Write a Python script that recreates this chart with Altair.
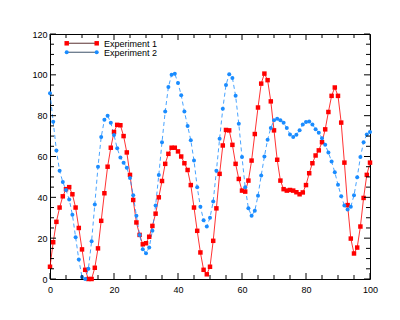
import altair as alt
import pandas as pd

x_vals = list(range(101))

exp1 = [6, 18, 28, 35, 40.5, 44, 45, 41.5, 35, 25,
        14.5, 4.5, 0, 0, 5.5, 15, 28.5, 42, 55, 64.3,
        72, 75.5, 75.3, 70, 62, 51, 38.7, 27.7, 21.6, 17,
        17.5, 20.7, 26, 32, 40, 48, 56.4, 61.3, 64.3, 64.3,
        62.5, 60, 56.7, 53.4, 46, 35, 23.6, 13, 4.5, 2.3,
        6, 18.7, 34.6, 51.5, 65.4, 73, 72.8, 65.7, 56.4, 49,
        43.3, 42.8, 48.2, 58, 71, 84, 95.7, 100.6, 97.4, 87,
        72.8, 58.4, 48.2, 44, 43.3, 43.6, 43.3, 42.5, 41.5, 42.4,
        46, 51.8, 56.7, 60.5, 63, 67, 73.3, 81.8, 89.7, 93.8,
        89.7, 76.6, 57, 36.2, 19.8, 12.5, 15.4, 25.7, 39.7, 51,
        57]

exp2 = [91, 77, 63, 53, 47.5, 43.6, 39, 31.5, 20.5, 9.5,
        1, 0, 5, 18.5, 36.5, 55, 69.5, 78, 80, 76.5,
        70.5, 64, 59.5, 57, 54.5, 49.5, 41, 31, 21.6, 14.6,
        12.6, 15.4, 23.6, 36, 51, 67, 82, 94, 100, 100.5,
        96, 90, 82, 75, 68, 58, 45, 35.4, 28.8, 25.7,
        30, 38, 53, 68.7, 83.4, 95, 100.3, 98.5, 89.7, 76,
        59.7, 45, 34.6, 31, 33.4, 40.8, 50.7, 60, 68.2, 74,
        77.7, 78.5, 77.7, 76.5, 74, 70.8, 69.5, 70.7, 72.8, 75.7,
        76.9, 77.2, 75.7, 73.4, 71.6, 69, 65.7, 62, 57.5, 52.3,
        46.2, 40.5, 36, 34, 35.4, 41, 49.8, 59.7, 67, 70.8,
        72]

series_names = ["Experiment 1", "Experiment 2"]
x_major = [0, 20, 40, 60, 80, 100]
x_minor = [5, 10, 15, 25, 30, 35, 45, 50, 55, 65, 70, 75, 85, 90, 95]
y_major = [0, 20, 40, 60, 80, 100, 120]
y_minor = [5, 10, 15, 25, 30, 35, 45, 50, 55, 65, 70, 75, 85, 90, 95, 105, 110, 115]

RED = "#ff0000"
BLUE = "#1a8cff"
FONT = "Liberation Sans"
W, H = 320, 245

xscale = alt.Scale(domain=[0, 100], nice=False, zero=False)
yscale = alt.Scale(domain=[0, 120], nice=False, zero=False)

df1 = pd.DataFrame({"x": x_vals, "y": exp1})
df2 = pd.DataFrame({"x": x_vals, "y": exp2})

xaxis = alt.Axis(values=x_major, ticks=False, domain=False, grid=False,
                 labelFont=FONT, labelFontSize=9, labelColor="black",
                 labelPadding=6, title=None, labelFlush=False)
yaxis = alt.Axis(values=y_major, ticks=False, domain=False, grid=False,
                 labelFont=FONT, labelFontSize=9, labelColor="black",
                 labelPadding=3, title=None, labelFlush=False)

def X(field):
    return alt.X(field, scale=xscale, axis=xaxis)

def Y(field):
    return alt.Y(field, scale=yscale, axis=yaxis)

red_line = alt.Chart(df1).mark_line(color=RED, strokeWidth=1, opacity=0.8).encode(
    x=X("x:Q"), y=Y("y:Q"))
red_pts = alt.Chart(df1).mark_square(color=RED, size=20, opacity=1).encode(
    x=X("x:Q"), y=Y("y:Q"))
blue_line = alt.Chart(df2).mark_line(color=BLUE, strokeWidth=1, strokeDash=[4, 3], opacity=0.8).encode(
    x=X("x:Q"), y=Y("y:Q"))
blue_pts = alt.Chart(df2).mark_circle(color=BLUE, size=16, opacity=1).encode(
    x=X("x:Q"), y=Y("y:Q"))

def xticks(vals, length):
    d = pd.DataFrame({"x": vals})
    bottom = alt.Chart(d).mark_rule(color="black", strokeWidth=1).encode(
        x=X("x:Q"), y=alt.value(H), y2=alt.value(H - length))
    top = alt.Chart(d).mark_rule(color="black", strokeWidth=1).encode(
        x=X("x:Q"), y=alt.value(0), y2=alt.value(length))
    return [bottom, top]

def yticks(vals, length):
    d = pd.DataFrame({"y": vals})
    left = alt.Chart(d).mark_rule(color="black", strokeWidth=1).encode(
        y=Y("y:Q"), x=alt.value(0), x2=alt.value(length))
    right = alt.Chart(d).mark_rule(color="black", strokeWidth=1).encode(
        y=Y("y:Q"), x=alt.value(W), x2=alt.value(W - length))
    return [left, right]

tick_layers = xticks(x_major, 6) + xticks(x_minor, 4) + yticks(y_major, 6) + yticks(y_minor, 4)

# legend
legend_layers = []
for name, col, ypix, shape, lcol in [(series_names[0], RED, 9.3, "square", "#806060"),
                                     (series_names[1], BLUE, 18.3, "circle", "#6a7a8c")]:
    d = pd.DataFrame({"label": [name]})
    legend_layers.append(alt.Chart(d).mark_rule(color=lcol, strokeWidth=1.3).encode(
        x=alt.value(16.7), x2=alt.value(46.7), y=alt.value(ypix)))
    for xp in [16.7, 46.7]:
        legend_layers.append(alt.Chart(d).mark_point(shape=shape, filled=True, color=col,
                                                     size=20 if shape == "square" else 16,
                                                     opacity=1).encode(
            x=alt.value(xp), y=alt.value(ypix)))
    legend_layers.append(alt.Chart(d).mark_text(align="left", baseline="middle", font=FONT,
                                                fontSize=9, color="black").encode(
        x=alt.value(54), y=alt.value(ypix + 0.5), text="label:N"))

chart = alt.layer(red_line, blue_line, red_pts, blue_pts, *tick_layers, *legend_layers).properties(
    width=W, height=H,
    padding={"left": 50, "top": 34, "right": 30, "bottom": 41},
    autosize=alt.AutoSizeParams(type="none"),
    background="white",
).configure_view(stroke="black", strokeWidth=1)

chart.save("out.html", embed_options={"renderer": "svg", "actions": False})
